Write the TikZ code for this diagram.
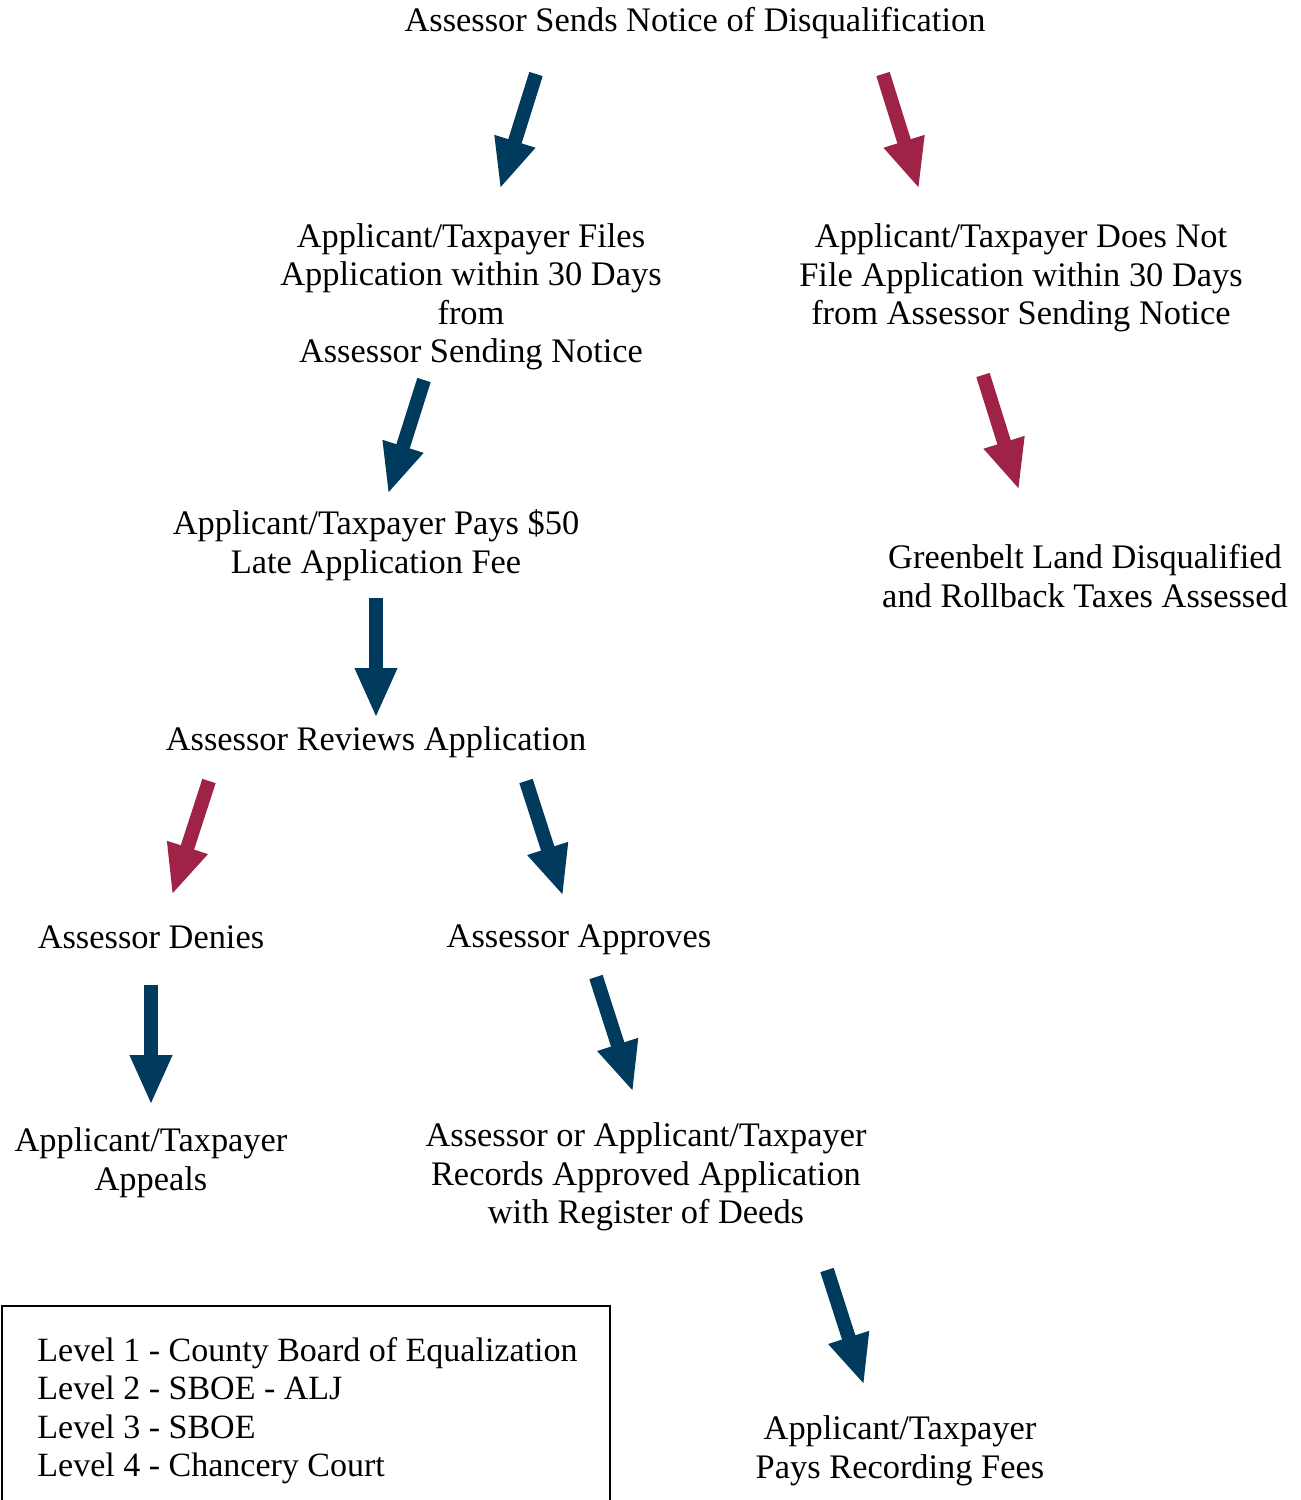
\documentclass[tikz,border=0pt]{standalone}
\usepackage{fontspec}
\setmainfont{Liberation Serif}
\usetikzlibrary{arrows.meta}
\definecolor{navy}{HTML}{003A5C}
\definecolor{wine}{HTML}{9E2346}
\begin{document}
\begin{tikzpicture}[x=0.5pt,y=-0.5pt,
  txt/.style={align=center,font=\fontsize{17.2}{19.25}\selectfont,inner sep=0pt},
  fat/.style={line width=7pt,-{Triangle[width=19.5pt,length=25pt]}},
  bluearrow/.style={fat,draw=navy,fill=navy},
  redarrow/.style={fat,draw=wine,fill=wine}]
\useasboundingbox (0,0) rectangle (1301,1500);
% texts
\node[txt] (t0) at (695,23) {Assessor Sends Notice of Disqualification};
\node[txt] (t1) at (471,297) {Applicant/Taxpayer Files\\Application within 30 Days\\from\\Assessor Sending Notice};
\node[txt] (t2) at (1021,278) {Applicant/Taxpayer Does Not\\File Application within 30 Days\\from Assessor Sending Notice};
\node[txt] (t3) at (376,545) {Applicant/Taxpayer Pays \$50\\Late Application Fee};
\node[txt] (t4) at (1085,576) {Greenbelt Land Disqualified\\and Rollback Taxes Assessed};
\node[txt] (t5) at (376,742) {Assessor Reviews Application};
\node[txt] (t6) at (151,937) {Assessor Denies};
\node[txt] (t7) at (579,940) {Assessor Approves};
\node[txt] (t8) at (151,1162.5) {Applicant/Taxpayer\\Appeals};
\node[txt] (t9) at (646,1177) {Assessor or Applicant/Taxpayer\\Records Approved Application\\with Register of Deeds};
\node[txt] (t10) at (900,1451) {Applicant/Taxpayer\\Pays Recording Fees};
% legend
\draw[line width=1pt] (2,1306) rectangle (610,1512);
\node[txt,font=\fontsize{17}{19.2}\selectfont,align=left,anchor=west] (leg) at (37,1410.5) {Level 1 - County Board of Equalization\\Level 2 - SBOE - ALJ\\Level 3 - SBOE\\Level 4 - Chancery Court};
% arrow end points
\coordinate (a1s) at (536,74);   \coordinate (a1e) at (500,189);
\coordinate (b1s) at (883,74);   \coordinate (b1e) at (919,189);
\coordinate (a2s) at (424,380);  \coordinate (a2e) at (388,494);
\coordinate (b2s) at (983,375);  \coordinate (b2e) at (1019,490);
\coordinate (a3s) at (376,598);  \coordinate (a3e) at (376,718);
\coordinate (b3s) at (209,781);  \coordinate (b3e) at (172,895);
\coordinate (a4s) at (526,781);  \coordinate (a4e) at (563,896);
\coordinate (a5s) at (151,985);  \coordinate (a5e) at (151,1105);
\coordinate (a6s) at (596,977);  \coordinate (a6e) at (633,1092);
\coordinate (a7s) at (827,1270); \coordinate (a7e) at (864,1385);
% arrows
\draw[bluearrow] (a1s) -- (a1e);
\draw[redarrow] (b1s) -- (b1e);
\draw[bluearrow] (a2s) -- (a2e);
\draw[redarrow] (b2s) -- (b2e);
\draw[bluearrow] (a3s) -- (a3e);
\draw[redarrow] (b3s) -- (b3e);
\draw[bluearrow] (a4s) -- (a4e);
\draw[bluearrow] (a5s) -- (a5e);
\draw[bluearrow] (a6s) -- (a6e);
\draw[bluearrow] (a7s) -- (a7e);
\end{tikzpicture}
\end{document}
